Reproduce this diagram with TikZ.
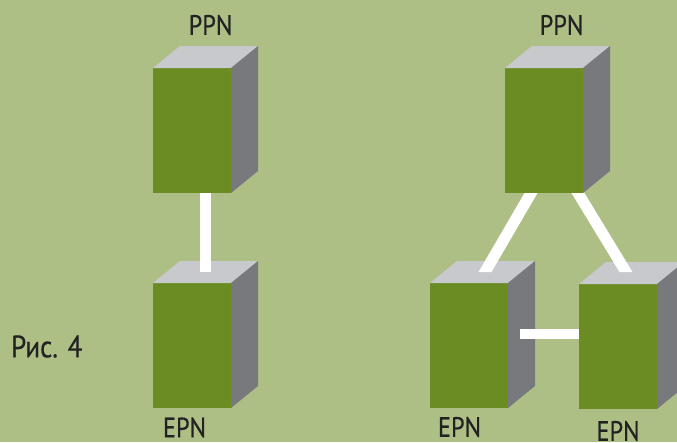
\documentclass[tikz,border=0pt]{standalone}
\usepackage{fontspec}
\setmainfont{PT Sans}[FakeStretch=0.87,FakeBold=0.4]
\usetikzlibrary{calc}
\definecolor{bgc}{RGB}{174,191,134}
\definecolor{frontc}{RGB}{107,139,35}
\definecolor{topc}{RGB}{200,201,204}
\definecolor{sidec}{RGB}{120,121,125}
\definecolor{txtc}{RGB}{34,34,34}
\newcommand\drawcubefaces[1]{%
  \fill[topc] (#1.north west) -- (#1.north east) -- ++(27,-22) -- ++(-78,0) -- cycle;
  \fill[sidec] (#1.north east) -- ++(27,-22) -- ++(0,125) -- (#1.south east) -- cycle;
}
\begin{document}
\begin{tikzpicture}[x=1pt,y=-1pt,
  front/.style={fill=frontc,minimum width=78pt,minimum height=125pt,inner sep=0pt,outer sep=0pt,anchor=north west},
  bar/.style={draw=white,line width=11pt,line cap=butt},
  lbl/.style={text=txtc,font=\fontsize{28}{30}\selectfont,inner sep=0pt}]
\useasboundingbox (0,0) rectangle (677,442);
\clip (0,0) rectangle (677,442);
\fill[bgc] (0,0) rectangle (677,442);
% left pair
\node[front] (B) at (153,283) {};
\drawcubefaces{B}
\coordinate (Btop) at ($(B.north)+(13.5,-11)$);
\coordinate (Abot) at (205.5,182);
\draw[bar] (Abot) -- (Btop);
\node[front] (A) at (153,68) {};
\drawcubefaces{A}
% right group
\node[front] (D) at (430,283) {};
\drawcubefaces{D}
\coordinate (Dc) at (520,334);
\coordinate (Ec) at (631.5,334);
\draw[bar,line width=10pt] (Dc) -- (Ec);
\node[front] (E) at (579,284) {};
\drawcubefaces{E}
\coordinate (CL) at (535.7,185);
\coordinate (CR) at (573.1,185);
\coordinate (Dt) at (485,272);
\coordinate (Et) at (626,272);
\fill[white] ($(CL)+(-6.5,0)$) -- ($(CL)+(6.5,0)$) -- ($(Dt)+(6.5,0)$) -- ($(Dt)+(-6.5,0)$) -- cycle;
\fill[white] ($(CR)+(-6.5,0)$) -- ($(CR)+(6.5,0)$) -- ($(Et)+(6.5,0)$) -- ($(Et)+(-6.5,0)$) -- cycle;
\node[front] (C) at (505,68) {};
\drawcubefaces{C}
% labels
\node[lbl] (lA) at (210.5,25) {PPN};
\node[lbl] (lC) at (561.5,25) {PPN};
\node[lbl] (lB) at (184.5,427.5) {EPN};
\node[lbl] (lD) at (459.5,427) {EPN};
\node[lbl] (lE) at (618,431) {EPN};
\node[lbl,anchor=west,font=\fontsize{31}{33}\selectfont] (fig) at (11,346.5) {Рис. 4};
\end{tikzpicture}
\end{document}
